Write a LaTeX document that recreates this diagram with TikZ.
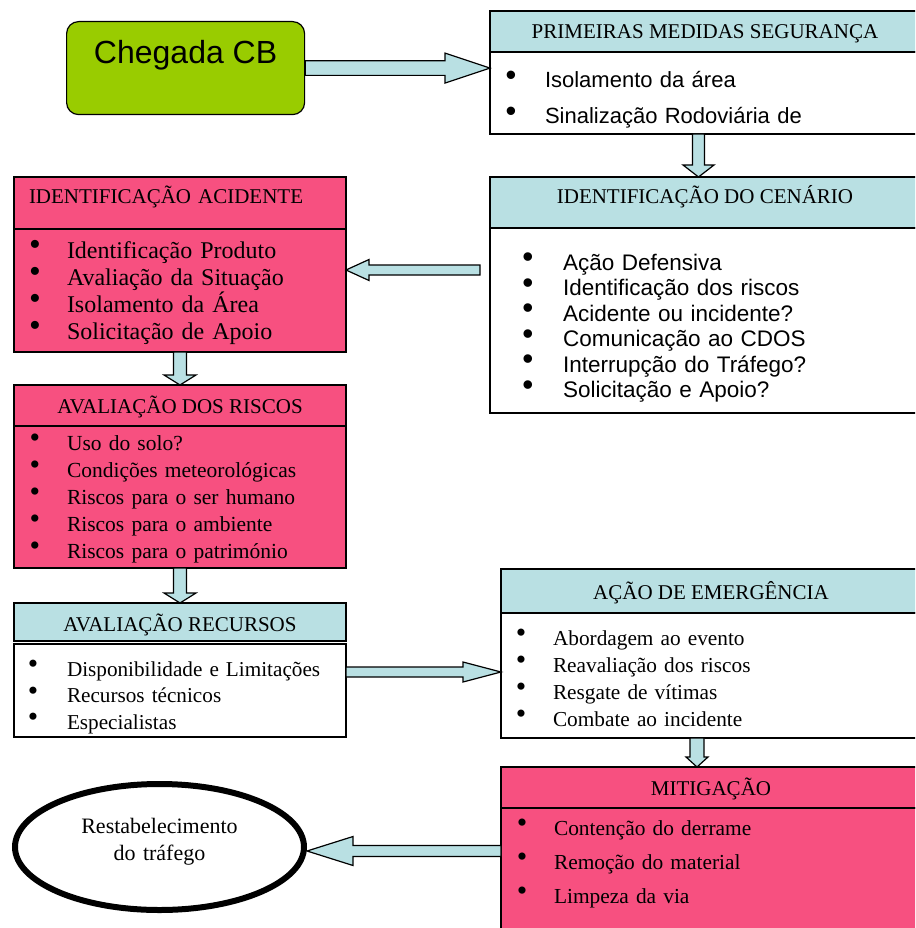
\documentclass[tikz,border=0pt]{standalone}
\usepackage{fontspec}
\usepackage{graphicx}
\setmainfont{Liberation Serif}
\newfontfamily\arialfont{Liberation Sans}
\usetikzlibrary{positioning,shapes.geometric,calc}
\definecolor{alertpink}{RGB}{247,80,128}
\definecolor{hdrblue}{RGB}{185,224,227}
\definecolor{arrowblue}{RGB}{185,224,227}
\definecolor{cbgreen}{RGB}{153,204,0}
\newcommand\bul[1][32pt]{\makebox[0pt][c]{\raisebox{0.1em}{\scalebox{1.4}{\textbullet}}}\hspace{#1}}
\tikzset{
 hdr/.style={draw,line width=1.2pt,inner sep=0pt,outer sep=0pt,anchor=north west,
             font=\fontsize{21pt}{25pt}\selectfont},
 lst/.style={draw,line width=1.2pt,inner ysep=0pt,outer sep=0pt,align=left},
 blockarrow/.style n args={3}{draw=black,fill=arrowblue,line width=1.2pt,
   to path={($(\tikztostart)!#1!90:(\tikztotarget)$)
     -- ($(\tikztotarget)!#3!(\tikztostart)!#1!90:(\tikztotarget)$)
     -- ($(\tikztotarget)!#3!(\tikztostart)!#2!90:(\tikztotarget)$)
     -- (\tikztotarget)
     -- ($(\tikztotarget)!#3!(\tikztostart)!#2!-90:(\tikztotarget)$)
     -- ($(\tikztotarget)!#3!(\tikztostart)!#1!-90:(\tikztotarget)$)
     -- ($(\tikztostart)!#1!-90:(\tikztotarget)$) -- cycle}}
}

\begin{document}
\begin{tikzpicture}[x=1pt,y=-1pt]
\useasboundingbox (0,0) rectangle (915,928);
\clip (0,0) rectangle (915,928);
\node[draw,line width=1.2pt,fill=cbgreen,rounded corners=12pt,anchor=north west,inner sep=0pt,
      minimum width=238pt,text height=42pt,text depth=51pt,
      font=\arialfont\fontsize{32pt}{37pt}\selectfont] (cb) at (66,21) {Chegada CB};

\node[hdr,fill=hdrblue,minimum width=430pt,text height=28pt,text depth=13pt] (pmsh) at (490,11)
  {PRIMEIRAS MEDIDAS SEGURANÇA};
\node[lst,fill=white,below=0pt of pmsh,inner xsep=21pt,text width=388pt,text height=36pt,
      text depth=46pt,font=\arialfont\fontsize{22pt}{36pt}\selectfont] (pmsb)
  {\bul[34pt]Isolamento da área\\ \bul[34pt]Sinalização Rodoviária de};

\node[hdr,fill=hdrblue,minimum width=430pt,text height=27pt,text depth=24pt] (cenh) at (490,177)
  {IDENTIFICAÇÃO DO CENÁRIO};
\node[lst,fill=white,below=0pt of cenh,inner xsep=38pt,text width=354pt,text height=42pt,
      text depth=143pt,font=\arialfont\fontsize{22.5pt}{25.5pt}\selectfont] (cenb)
  {\bul[35pt]Ação Defensiva\\ \bul[35pt]Identificação dos riscos\\
   \bul[35pt]Acidente ou incidente?\\ \bul[35pt]Comunicação ao CDOS\\
   \bul[35pt]Interrupção do Tráfego?\\ \bul[35pt]Solicitação e Apoio?};

\node[hdr,fill=alertpink,inner xsep=15pt,text width=302pt,align=left,text height=27pt,
      text depth=25pt] (idah) at (14,177) {IDENTIFICAÇÃO ACIDENTE};
\node[lst,fill=alertpink,below=0pt of idah,inner xsep=21pt,text width=290pt,text height=29pt,
      text depth=94pt,font=\fontsize{24pt}{27pt}\selectfont] (idab)
  {\bul Identificação Produto\\ \bul Avaliação da Situação\\
   \bul Isolamento da Área\\ \bul Solicitação de Apoio};

\node[hdr,fill=alertpink,minimum width=332pt,text height=28pt,text depth=13pt] (risch) at (14,385)
  {AVALIAÇÃO DOS RISCOS};
\node[lst,fill=alertpink,below=0pt of risch,inner xsep=21pt,text width=290pt,text height=24pt,
      text depth=118pt,font=\fontsize{21.5pt}{27pt}\selectfont] (riscb)
  {\bul Uso do solo?\\ \bul Condições meteorológicas\\ \bul Riscos para o ser humano\\
   \bul Riscos para o ambiente\\ \bul Riscos para o património};

\node[hdr,fill=hdrblue,minimum width=332pt,text height=28pt,text depth=10pt] (rech) at (14,603)
  {AVALIAÇÃO RECURSOS};
\node[lst,fill=white,below=3pt of rech,inner xsep=19pt,text width=294pt,text height=32pt,
      text depth=61pt,font=\fontsize{21.2pt}{26.5pt}\selectfont] (recb)
  {\bul[34pt]Disponibilidade e Limitações\\ \bul[34pt]Recursos técnicos\\
   \bul[34pt]Especialistas};

\node[hdr,fill=hdrblue,minimum width=420pt,text height=30pt,text depth=14pt] (acah) at (501,569)
  {AÇÃO DE EMERGÊNCIA};
\node[lst,fill=white,below=0pt of acah,inner xsep=20pt,text width=380pt,text height=32pt,
      text depth=93pt,font=\fontsize{21.3pt}{27pt}\selectfont] (acab)
  {\bul Abordagem ao evento\\ \bul Reavaliação dos riscos\\ \bul Resgate de vítimas\\
   \bul Combate ao incidente};

\node[hdr,fill=alertpink,minimum width=420pt,text height=28pt,text depth=13pt] (mith) at (501,767)
  {MITIGAÇÃO};
\node[lst,fill=alertpink,below=0pt of mith,inner xsep=21pt,text width=378pt,text height=27pt,
      text depth=100pt,font=\fontsize{21.4pt}{34pt}\selectfont] (mitb)
  {\bul Contenção do derrame\\ \bul Remoção do material\\ \bul Limpeza da via};

\node[ellipse,draw,line width=6pt,fill=white,minimum width=289pt,minimum height=126pt,
      inner sep=0pt,text width=180pt,align=center,text height=20pt,text depth=48pt,
      font=\fontsize{22pt}{27pt}\selectfont] (rest) at (159.5,847)
  {Restabelecimento\\do tráfego};

\coordinate (a1e) at (pmsh.west |- cb.east);
\coordinate (a2s) at ([xshift=-6.5pt]pmsb.south);
\coordinate (a2e) at (a2s |- cenh.north);
\coordinate (a3s) at ([xshift=-10pt,yshift=50.5pt]cenb.west);
\coordinate (a3e) at (idab.east |- a3s);
\coordinate (a6s) at ([yshift=18.5pt]recb.east);
\coordinate (a6e) at (acab.west |- a6s);
\coordinate (a7s) at ([xshift=-14pt]acab.south);
\coordinate (a7e) at (a7s |- mith.north);
\coordinate (a8s) at ([yshift=20.5pt]mitb.west);
\coordinate (a8e) at (rest.east |- a8s);
\draw[blockarrow={7.3pt}{15pt}{45pt}] (cb.east) to (a1e);
\draw[blockarrow={6pt}{15.5pt}{12pt}] (a2s) to (a2e);
\draw[blockarrow={5pt}{10.5pt}{23pt}] (a3s) to (a3e);
\draw[blockarrow={6.5pt}{16pt}{10pt}] (idab.south) to (risch.north);
\draw[blockarrow={6.5pt}{16pt}{10pt}] (riscb.south) to (rech.north);
\draw[blockarrow={5pt}{10pt}{38pt}] (a6s) to (a6e);
\draw[blockarrow={7pt}{11pt}{10pt}] (a7s) to (a7e);
\draw[blockarrow={5.5pt}{14.5pt}{46pt}] (a8s) to (a8e);
\end{tikzpicture}
\end{document}
